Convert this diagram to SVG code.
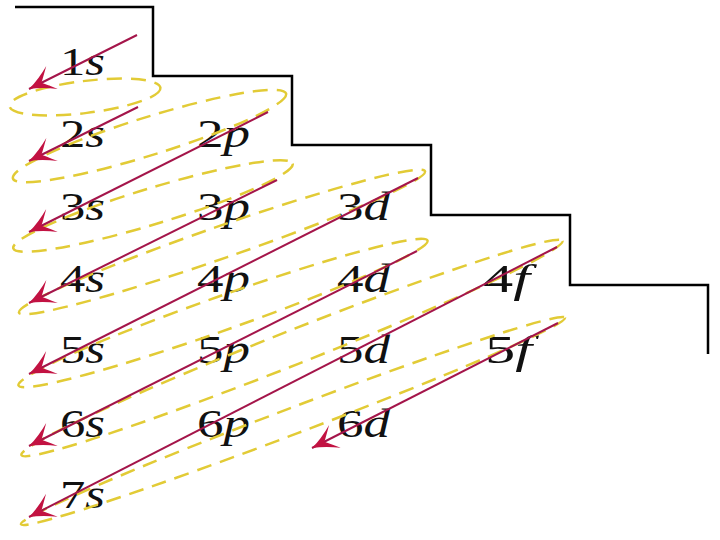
<svg xmlns="http://www.w3.org/2000/svg" width="720" height="540" viewBox="0 0 720 540">
<defs>
<style>
.lbl{font-family:"Liberation Serif","Times New Roman",serif;font-size:39px;fill:#111}
.it{font-style:italic}
.loop{fill:none;stroke:#e2cb36;stroke-width:2.5;stroke-dasharray:15 9}
.arr{fill:none;stroke:#a4154a;stroke-width:2;marker-end:url(#ah)}
.stair{fill:none;stroke:#000;stroke-width:2.5}
</style>
<marker id="ah" markerUnits="userSpaceOnUse" markerWidth="30" markerHeight="30" viewBox="-26 -14 28 28" refX="0" refY="0" orient="auto">
<path d="M0,0 Q-12,-4 -24,-12 Q-15,-2 -13,0 Q-15,2 -24,12 Q-12,4 0,0 Z" fill="#c21242"/>
</marker>
</defs>
<rect width="720" height="540" fill="#fff"/>
<g id="staircase">
<path class="stair" d="M15,7 H153 V76 H292 V145 H431 V215 H570 V285 H708 V354"/>
</g>
<g id="n1s"><text class="lbl" x="60" y="75" textLength="45" lengthAdjust="spacingAndGlyphs">1<tspan class="it">s</tspan></text></g>
<g id="n2s"><text class="lbl" x="60" y="147" textLength="45" lengthAdjust="spacingAndGlyphs">2<tspan class="it">s</tspan></text></g>
<g id="n2p"><text class="lbl" x="197" y="147" textLength="53" lengthAdjust="spacingAndGlyphs">2<tspan class="it">p</tspan></text></g>
<g id="n3s"><text class="lbl" x="60" y="220" textLength="45" lengthAdjust="spacingAndGlyphs">3<tspan class="it">s</tspan></text></g>
<g id="n3p"><text class="lbl" x="197" y="220" textLength="53" lengthAdjust="spacingAndGlyphs">3<tspan class="it">p</tspan></text></g>
<g id="n3d"><text class="lbl" x="337" y="220" textLength="53" lengthAdjust="spacingAndGlyphs">3<tspan class="it">d</tspan></text></g>
<g id="n4s"><text class="lbl" x="60" y="292" textLength="45" lengthAdjust="spacingAndGlyphs">4<tspan class="it">s</tspan></text></g>
<g id="n4p"><text class="lbl" x="197" y="292" textLength="53" lengthAdjust="spacingAndGlyphs">4<tspan class="it">p</tspan></text></g>
<g id="n4d"><text class="lbl" x="337" y="292" textLength="53" lengthAdjust="spacingAndGlyphs">4<tspan class="it">d</tspan></text></g>
<g id="n4f"><text class="lbl" x="483" y="292" textLength="47" lengthAdjust="spacingAndGlyphs">4<tspan class="it">f</tspan></text></g>
<g id="n5s"><text class="lbl" x="60" y="363" textLength="45" lengthAdjust="spacingAndGlyphs">5<tspan class="it">s</tspan></text></g>
<g id="n5p"><text class="lbl" x="197" y="363" textLength="53" lengthAdjust="spacingAndGlyphs">5<tspan class="it">p</tspan></text></g>
<g id="n5d"><text class="lbl" x="337" y="363" textLength="53" lengthAdjust="spacingAndGlyphs">5<tspan class="it">d</tspan></text></g>
<g id="n5f"><text class="lbl" x="485" y="363" textLength="47" lengthAdjust="spacingAndGlyphs">5<tspan class="it">f</tspan></text></g>
<g id="n6s"><text class="lbl" x="60" y="437" textLength="45" lengthAdjust="spacingAndGlyphs">6<tspan class="it">s</tspan></text></g>
<g id="n6p"><text class="lbl" x="197" y="437" textLength="53" lengthAdjust="spacingAndGlyphs">6<tspan class="it">p</tspan></text></g>
<g id="n6d"><text class="lbl" x="337" y="437" textLength="53" lengthAdjust="spacingAndGlyphs">6<tspan class="it">d</tspan></text></g>
<g id="n7s"><text class="lbl" x="60" y="508" textLength="45" lengthAdjust="spacingAndGlyphs">7<tspan class="it">s</tspan></text></g>
<g id="loops">
<ellipse class="loop" cx="85" cy="97" rx="76" ry="16" transform="rotate(-7 85 97)"/>
<ellipse class="loop" cx="149.5" cy="136" rx="143" ry="19" transform="rotate(-17.3 149.5 136)"/>
<ellipse class="loop" cx="153" cy="206" rx="146" ry="18" transform="rotate(-16.9 153 206)"/>
<ellipse class="loop" cx="222" cy="242" rx="215" ry="16" transform="rotate(-19.2 222 242)"/>
<ellipse class="loop" cx="223" cy="313" rx="217" ry="17" transform="rotate(-19.5 223 313)"/>
<ellipse class="loop" cx="292" cy="348" rx="291" ry="17" transform="rotate(-21.6 292 348)"/>
<ellipse class="loop" cx="293" cy="421" rx="291" ry="13" transform="rotate(-20.8 293 421)"/>
</g>
<g id="connectors">
<line class="arr" x1="137" y1="35" x2="29" y2="89"/>
<line class="arr" x1="138" y1="107" x2="29" y2="161"/>
<line class="arr" x1="268" y1="112" x2="29" y2="232"/>
<line class="arr" x1="277" y1="180" x2="29" y2="303"/>
<line class="arr" x1="418" y1="178" x2="29" y2="374"/>
<line class="arr" x1="417" y1="251" x2="29" y2="446"/>
<line class="arr" x1="557" y1="247" x2="29" y2="517"/>
<line class="arr" x1="558" y1="323" x2="312" y2="448"/>
</g>
</svg>
